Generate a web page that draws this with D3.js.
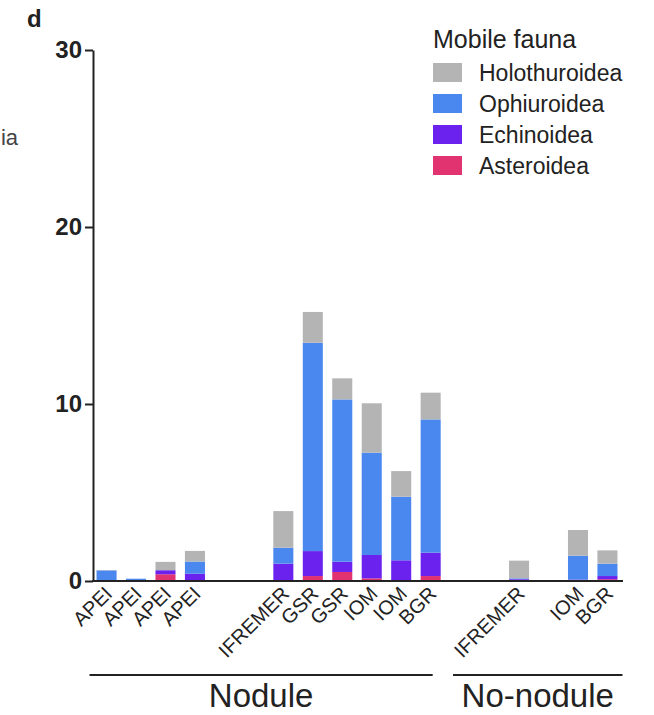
<!DOCTYPE html>
<html>
<head>
<meta charset="utf-8">
<script src="https://cdn.jsdelivr.net/npm/d3@7"></script>
<style>
  body { margin: 0; background: #fff; }
  text { font-family: "Liberation Sans", Arial, sans-serif; fill: #222; }
</style>
</head>
<body>
<div id="chart"></div>
<script>
// one slot per bar; empty strings are the gaps between site groups
const sites = ['APEI', 'APEI', 'APEI', 'APEI', '', '', 'IFREMER', 'GSR', 'GSR', 'IOM', 'IOM', 'BGR', '', '', 'IFREMER', '', 'IOM', 'BGR'];
const habitats = ['Nodule', 'No-nodule'];
const habitatSlots = [[0, 11], [14, 17]];

const asteroidea   = [0, 0, 0.38, 0.05, 0, 0, 0.05, 0.28, 0.51, 0.15, 0.05, 0.28, 0, 0, 0.02, 0, 0.03, 0.1];
const echinoidea   = [0.05, 0.05, 0.23, 0.36, 0, 0, 0.93, 1.41, 0.58, 1.32, 1.12, 1.32, 0, 0, 0.08, 0, 0.05, 0.18];
const ophiuroidea  = [0.55, 0.08, 0, 0.69, 0, 0, 0.9, 11.77, 9.17, 5.78, 3.59, 7.53, 0, 0, 0.05, 0, 1.35, 0.7];
const holothuroidea = [0.02, 0, 0.47, 0.6, 0, 0, 2.07, 1.74, 1.19, 2.79, 1.45, 1.51, 0, 0, 1.0, 0, 1.45, 0.75];

const yTicks = [0, 10, 20, 30];

const seriesNames = ['Asteroidea', 'Echinoidea', 'Ophiuroidea', 'Holothuroidea'];
const colors = {
  Holothuroidea: '#b4b4b4',
  Ophiuroidea: '#4a88ef',
  Echinoidea: '#6b22ef',
  Asteroidea: '#e0336f'
};

const width = 654, height = 715;
const svg = d3.select('#chart').append('svg')
  .attr('width', width)
  .attr('height', height);

const rows = sites.map((s, i) => ({
  id: i,
  site: s,
  Asteroidea: asteroidea[i],
  Echinoidea: echinoidea[i],
  Ophiuroidea: ophiuroidea[i],
  Holothuroidea: holothuroidea[i]
}));

const x = d3.scaleBand()
  .domain(rows.map(d => d.id))
  .range([93, 621])
  .paddingInner(0.32)
  .paddingOuter(0.12);

const y = d3.scaleLinear()
  .domain([0, 30])
  .range([581, 50]);

const stacked = d3.stack().keys(seriesNames)(rows);

// bars
svg.append('g')
  .selectAll('g')
  .data(stacked)
  .join('g')
  .attr('fill', s => colors[s.key])
  .selectAll('rect')
  .data(s => s.filter(d => d[1] > d[0]))
  .join('rect')
  .attr('x', d => x(d.data.id))
  .attr('width', x.bandwidth())
  .attr('y', d => y(d[1]))
  .attr('height', d => y(d[0]) - y(d[1]));

// y axis
const yAxis = svg.append('g')
  .attr('transform', 'translate(93,0)')
  .call(d3.axisLeft(y).tickValues(yTicks).tickSize(8).tickPadding(3).tickSizeOuter(0));
yAxis.select('.domain').attr('stroke', '#222').attr('stroke-width', 2);
yAxis.selectAll('.tick line').attr('stroke', '#222').attr('stroke-width', 2);
yAxis.selectAll('.tick text')
  .attr('font-size', 24)
  .attr('font-weight', 'bold')
  .attr('fill', '#222')
  .style('font-family', '"Liberation Sans", Arial, sans-serif');

// x axis line
svg.append('line')
  .attr('x1', 92).attr('x2', 623)
  .attr('y1', y(0)).attr('y2', y(0))
  .attr('stroke', '#222').attr('stroke-width', 2);

// rotated site labels
svg.append('g')
  .selectAll('text')
  .data(rows.filter(d => d.site))
  .join('text')
  .attr('transform', d => `translate(${x(d.id) + x.bandwidth() / 2 + 7},${y(0) + 14}) rotate(-45)`)
  .attr('text-anchor', 'end')
  .attr('font-size', 20)
  .text(d => d.site);

// habitat group lines and names
habitatSlots.forEach((slots, i) => {
  const x0 = i === 0 ? x(slots[0]) - 7 : x(slots[0]) - 56;
  const x1 = i === 0 ? x(slots[1]) + x.bandwidth() - 8 : x(slots[1]) + x.bandwidth() + 5;
  svg.append('line')
    .attr('x1', x0).attr('x2', x1)
    .attr('y1', 675).attr('y2', 675)
    .attr('stroke', '#222').attr('stroke-width', 2);
  svg.append('text')
    .attr('x', (x0 + x1) / 2)
    .attr('y', 707)
    .attr('text-anchor', 'middle')
    .attr('font-size', 33)
    .text(habitats[i]);
});

// panel letter and clipped label of the neighbouring panel
svg.append('text')
  .attr('x', 27).attr('y', 27)
  .attr('font-size', 24)
  .attr('font-weight', 'bold')
  .text('d');
svg.append('text')
  .attr('x', 18).attr('y', 145)
  .attr('text-anchor', 'end')
  .attr('font-size', 22)
  .style('fill', '#444')
  .text('ia');

// legend
const legend = svg.append('g').attr('transform', 'translate(433,0)');
legend.append('text')
  .attr('x', 0).attr('y', 48)
  .attr('font-size', 25)
  .text('Mobile fauna');
const legendOrder = seriesNames.slice().reverse();
legendOrder.forEach((name, i) => {
  legend.append('rect')
    .attr('x', 0).attr('y', 63 + i * 31)
    .attr('width', 29).attr('height', 19)
    .attr('fill', colors[name]);
  legend.append('text')
    .attr('x', 46).attr('y', 81 + i * 31)
    .attr('font-size', 23)
    .text(name);
});
</script>
</body>
</html>
